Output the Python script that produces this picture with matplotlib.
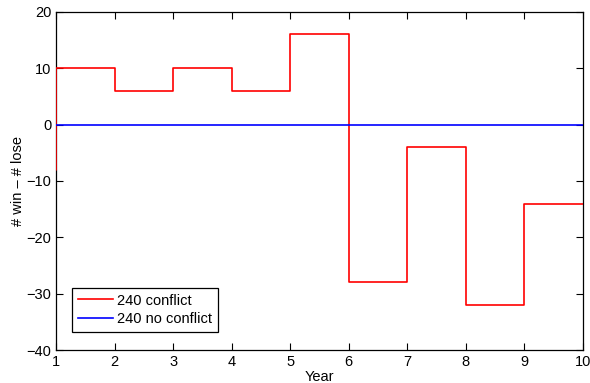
import matplotlib.pyplot as plt
import numpy as np

plt.rcParams['font.family'] = ['Liberation Sans', 'DejaVu Sans']

# stairs data: value holds from year x until x+1
years = [0, 1, 2, 3, 4, 5, 6, 7, 8, 9, 10]
conflict = [-8, 10, 6, 10, 6, 16, -28, -4, -32, -14, -14]
no_conflict = [0, 0, 0, 0, 0, 0, 0, 0, 0, 0, 0]


def setup_plot():
    fig = plt.figure(figsize=(5.9, 3.83), dpi=100)
    ax = fig.add_axes([0.095, 0.086, 0.893, 0.883])
    return fig, ax


fig, ax = setup_plot()
ax.step(years, conflict, where='post', color='#ff0000', linewidth=1.2, label='240 conflict', zorder=3)
ax.step(years, no_conflict, where='post', color='#0000ff', linewidth=1.2, label='240 no conflict', zorder=3)

ax.set_xlim(1, 10)
ax.set_ylim(-40, 20)
ax.set_xticks(range(1, 11))
ax.set_yticks(range(-40, 21, 10))
ax.set_yticklabels(['\u221240', '\u221230', '\u221220', '\u221210', '0', '10', '20'])
ax.tick_params(direction='in', top=True, right=True, labelsize=10.5, length=5, width=0.8)
for sp in ax.spines.values():
    sp.set_linewidth(0.9)

ax.set_xlabel('Year', fontsize=10.5, labelpad=1)
ax.set_ylabel('# win \u2013 # lose', fontsize=10.5, labelpad=1)

leg = ax.legend(loc='lower left', bbox_to_anchor=(0.03, 0.054), fontsize=10.5,
                fancybox=False, edgecolor='black', framealpha=1,
                handlelength=2.4, borderpad=0.4, labelspacing=0.3, handletextpad=0.3,
                borderaxespad=0)
leg.get_frame().set_linewidth(0.9)

fig.savefig('out.png', dpi=100)
plt.close(fig)
